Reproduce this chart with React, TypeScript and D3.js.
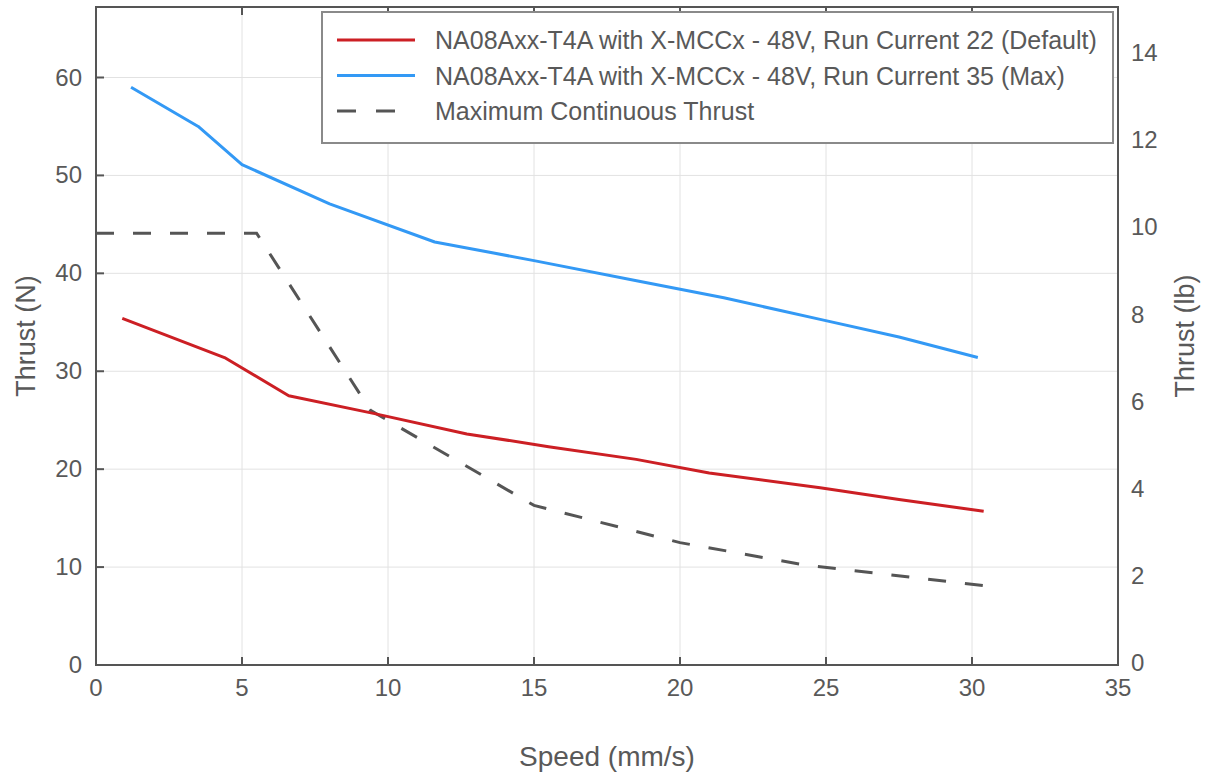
import React from "react";
import * as d3 from "d3";

const speedDefault = [0.9, 4.4, 6.6, 9.5, 12.7, 15.5, 18.5, 21.0, 24.8, 27.5, 30.4];
const thrustDefault = [35.4, 31.4, 27.5, 25.7, 23.6, 22.3, 21.0, 19.6, 18.1, 16.9, 15.7];

const speedMax = [1.2, 3.5, 5.0, 8.0, 11.6, 15.0, 18.6, 21.5, 24.8, 27.5, 30.2];
const thrustMax = [59.0, 55.0, 51.1, 47.1, 43.2, 41.3, 39.2, 37.5, 35.3, 33.5, 31.4];

const speedCont = [0, 5.5, 9.4, 15.0, 20.0, 24.3, 30.4];
const thrustCont = [44.1, 44.1, 26.0, 16.3, 12.5, 10.2, 8.1];

const xTicks = [0, 5, 10, 15, 20, 25, 30, 35];
const yTicksN = [0, 10, 20, 30, 40, 50, 60];
const yTicksLb = [0, 2, 4, 6, 8, 10, 12, 14];

const legendLabels = [
  "NA08Axx-T4A with X-MCCx - 48V, Run Current 22 (Default)",
  "NA08Axx-T4A with X-MCCx - 48V, Run Current 35 (Max)",
  "Maximum Continuous Thrust",
];

const W = 1212;
const H = 778;
const M = { left: 96, right: 94, top: 7, bottom: 113 };
const LB_PER_N = 1 / 4.44822;
const Y_MAX_N = 67.2;

const FONT = "Arial, 'Liberation Sans', Helvetica, sans-serif";
const TEXT = "#595959";
const AXIS = "#555555";
const GRID = "#e2e2e2";
const RED = "#cc1f24";
const BLUE = "#3399f5";
const DASH = "#555555";

export default function App() {
  const x = d3.scaleLinear().domain([0, 35]).range([M.left, W - M.right]);
  const y = d3.scaleLinear().domain([0, Y_MAX_N]).range([H - M.bottom, M.top]);
  const yLb = d3.scaleLinear().domain([0, Y_MAX_N * LB_PER_N]).range([H - M.bottom, M.top]);

  const line = d3
    .line<[number, number]>()
    .x((d) => x(d[0]))
    .y((d) => y(d[1]))
    .curve(d3.curveLinear);

  const dDefault = line(speedDefault.map((s, i) => [s, thrustDefault[i]] as [number, number])) || "";
  const dMax = line(speedMax.map((s, i) => [s, thrustMax[i]] as [number, number])) || "";
  const dCont = line(speedCont.map((s, i) => [s, thrustCont[i]] as [number, number])) || "";

  const x0 = M.left;
  const x1 = W - M.right;
  const y0 = H - M.bottom;
  const y1 = M.top;

  const legX = 322;
  const legY = 12;
  const legW = 1113 - 322;
  const legH = 131;
  const legendStyles = [
    { stroke: RED, dash: undefined, x2: 415 },
    { stroke: BLUE, dash: undefined, x2: 415 },
    { stroke: DASH, dash: "19 20", x2: 396 },
  ];

  return (
    <svg
      width={W}
      height={H}
      style={{ position: "absolute", left: 0, top: 0, background: "#ffffff" }}
      fontFamily={FONT}
    >
      <rect x={0} y={0} width={W} height={H} fill="#ffffff" />
      {/* grid */}
      {xTicks.slice(1, -1).map((t) => (
        <line key={"gx" + t} x1={x(t)} x2={x(t)} y1={y0} y2={y1} stroke={GRID} strokeWidth={1} />
      ))}
      {yTicksN.slice(1).map((t) => (
        <line key={"gy" + t} x1={x0} x2={x1} y1={y(t)} y2={y(t)} stroke={GRID} strokeWidth={1} />
      ))}

      {/* series */}
      <path d={dCont} fill="none" stroke={DASH} strokeWidth={3} strokeDasharray="18 19" />
      <path d={dDefault} fill="none" stroke={RED} strokeWidth={3} strokeLinejoin="round" />
      <path d={dMax} fill="none" stroke={BLUE} strokeWidth={3} strokeLinejoin="round" />

      {/* frame */}
      <rect x={x0} y={y1} width={x1 - x0} height={y0 - y1} fill="none" stroke={AXIS} strokeWidth={2} />

      {/* x ticks */}
      {xTicks.map((t) => (
        <g key={"xt" + t}>
          {t > 0 && t < 35 && (
            <>
              <line x1={x(t)} x2={x(t)} y1={y0} y2={y0 - 8} stroke={AXIS} strokeWidth={2} />
              <line x1={x(t)} x2={x(t)} y1={y1} y2={y1 + 8} stroke={AXIS} strokeWidth={2} />
            </>
          )}
          <text x={x(t)} y={y0 + 31} textAnchor="middle" fontSize={24} fill={TEXT}>
            {t}
          </text>
        </g>
      ))}

      {/* left y ticks */}
      {yTicksN.map((t) => (
        <g key={"yt" + t}>
          {t > 0 && <line x1={x0} x2={x0 + 8} y1={y(t)} y2={y(t)} stroke={AXIS} strokeWidth={2} />}
          <text x={x0 - 14} y={y(t) + 8} textAnchor="end" fontSize={24} fill={TEXT}>
            {t}
          </text>
        </g>
      ))}

      {/* right y ticks (lb) */}
      {yTicksLb.map((t) => (
        <text key={"yr" + t} x={x1 + 13} y={yLb(t) + 6} textAnchor="start" fontSize={24} fill={TEXT}>
          {t}
        </text>
      ))}

      {/* axis titles */}
      <text x={607} y={766} textAnchor="middle" fontSize={28} fill={TEXT}>
        Speed (mm/s)
      </text>
      <text
        transform={`translate(35, ${(y0 + y1) / 2}) rotate(-90)`}
        textAnchor="middle"
        fontSize={27}
        fill={TEXT}
      >
        Thrust (N)
      </text>
      <text
        transform={`translate(1194, ${(y0 + y1) / 2}) rotate(-90)`}
        textAnchor="middle"
        fontSize={27}
        fill={TEXT}
      >
        Thrust (lb)
      </text>

      {/* legend */}
      <rect x={legX} y={legY} width={legW} height={legH} fill="#ffffff" stroke="#8a8a8a" strokeWidth={2} />
      {legendLabels.map((lab, i) => {
        const ly = 40 + i * 35.5;
        return (
          <g key={"lg" + i}>
            <line
              x1={337}
              x2={legendStyles[i].x2}
              y1={ly}
              y2={ly}
              stroke={legendStyles[i].stroke}
              strokeWidth={3}
              strokeDasharray={legendStyles[i].dash}
            />
            <text x={435} y={ly + 9} fontSize={25} fill={TEXT}>
              {lab}
            </text>
          </g>
        );
      })}
    </svg>
  );
}
